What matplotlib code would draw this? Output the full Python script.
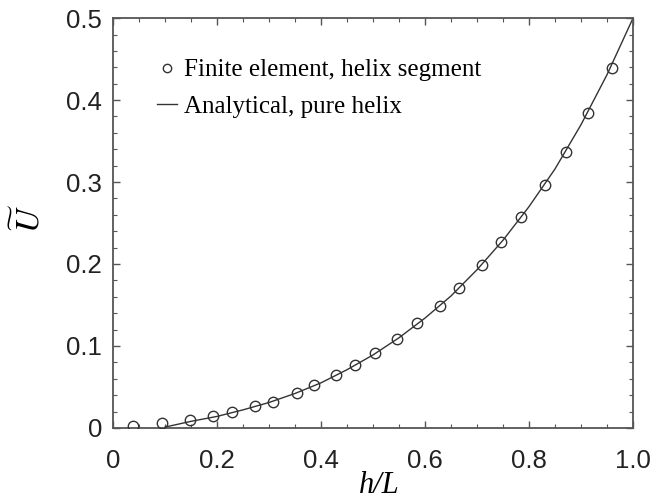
import matplotlib
matplotlib.use('Agg')
import matplotlib.pyplot as plt
from matplotlib.ticker import MultipleLocator

plt.rcParams['mathtext.fontset'] = 'stix'

# Finite element results
fe_h = [0.038, 0.094, 0.148, 0.192, 0.229, 0.274, 0.307, 0.353, 0.387, 0.428,
        0.465, 0.504, 0.546, 0.584, 0.628, 0.665, 0.709, 0.746, 0.785, 0.831,
        0.872, 0.913, 0.959]
fe_u = [0.002, 0.006, 0.010, 0.014, 0.019, 0.027, 0.032, 0.043, 0.052, 0.064,
        0.077, 0.091, 0.109, 0.128, 0.149, 0.171, 0.199, 0.227, 0.257, 0.297,
        0.337, 0.384, 0.439]

# Analytical curve, pure helix
an_h = [0.10, 0.15, 0.20, 0.25, 0.30, 0.35, 0.40, 0.45, 0.50, 0.55,
        0.60, 0.65, 0.70, 0.75, 0.80, 0.85, 0.90, 0.95, 1.00]
an_u = [0.001, 0.008, 0.014, 0.022, 0.031, 0.042, 0.055, 0.071, 0.089, 0.110,
        0.134, 0.161, 0.193, 0.229, 0.270, 0.316, 0.370, 0.431, 0.500]

xticks = [0, 0.2, 0.4, 0.6, 0.8, 1.0]
xtick_labels = ['0', '0.2', '0.4', '0.6', '0.8', '1.0']
yticks = [0, 0.1, 0.2, 0.3, 0.4, 0.5]
ytick_labels = ['0', '0.1', '0.2', '0.3', '0.4', '0.5']

fig = plt.figure(figsize=(6.57, 5.04), dpi=100)
ax = fig.add_axes([0.172, 0.151, 0.7915, 0.813])

ax.plot(an_h, an_u, color='#333333', lw=1.0, label='Analytical, pure helix', zorder=2)
ax.plot(fe_h, fe_u, ls='none', marker='o', ms=7.5, mfc='none', mec='#333333',
        mew=1.0, label='Finite element, helix segment', zorder=3)

ax.set_xlim(0, 1.0)
ax.set_ylim(0, 0.5)
ax.set_xticks(xticks)
ax.set_xticklabels(xtick_labels)
ax.set_yticks(yticks)
ax.set_yticklabels(ytick_labels)
ax.xaxis.set_minor_locator(MultipleLocator(0.05))
ax.yaxis.set_minor_locator(MultipleLocator(0.02))

for lab in ax.get_xticklabels() + ax.get_yticklabels():
    lab.set_fontfamily('Liberation Sans')
    lab.set_fontsize(18.5)
    lab.set_color('#222222')

ax.tick_params(which='both', direction='in', top=True, right=True, color='#555555')
ax.tick_params(which='major', length=5, width=1.0)
ax.tick_params(which='minor', length=3, width=0.8)
ax.tick_params(axis='x', pad=15)
ax.tick_params(axis='y', pad=8)
for sp in ax.spines.values():
    sp.set_color('#555555')
    sp.set_linewidth(1.3)

ax.set_xlabel('h/L', family='Liberation Serif', style='italic', fontsize=22, va='center')
ax.xaxis.set_label_coords(0.512, -0.141)
ax.set_ylabel('$\\widetilde{U}$', fontsize=24, va='center')
ax.yaxis.set_label_coords(-0.160, 0.512)

handles, labels = ax.get_legend_handles_labels()
leg = ax.legend(handles[::-1], labels[::-1], loc='upper left',
                bbox_to_anchor=(0.05, 0.943), frameon=False,
                prop={'family': 'Liberation Serif', 'size': 18},
                handlelength=0.8, handletextpad=0.3, labelspacing=0.55,
                markerscale=0.8, borderpad=0.2)

fig.savefig('out.png', dpi=100)
